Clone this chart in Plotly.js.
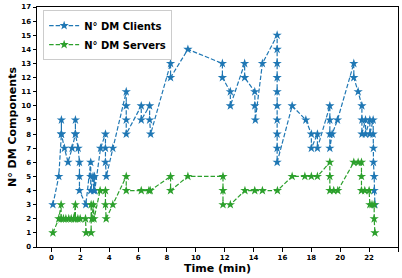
<!DOCTYPE html>
<html>
<head>
<meta charset="utf-8">
<script src="https://cdn.plot.ly/plotly-3.0.1.min.js"></script>
<style>html,body{margin:0;padding:0;background:#fff;}#chart{width:402px;height:278px;}</style>
</head>
<body>
<div id="chart"></div>
<script>
const clientsT = [0.1,0.51,0.69,0.69,0.69,0.9,1.15,1.43,1.66,1.66,1.66,1.85,1.94,1.94,1.94,2.38,2.72,2.72,2.72,2.88,2.93,2.98,3.0,3.4,3.74,3.74,3.74,3.8,4.25,5.18,5.18,5.18,5.18,6.22,6.22,6.8,6.8,6.87,8.25,8.25,9.45,11.84,11.84,12.39,12.39,13.38,13.38,14.08,14.08,14.12,14.61,15.63,15.63,15.63,15.63,15.63,15.63,15.63,15.63,15.63,15.63,16.67,17.62,18.0,18.0,18.42,18.42,19.28,19.28,19.28,19.28,19.44,19.81,20.94,20.94,21.24,21.5,21.5,21.5,21.75,21.75,22.05,22.05,22.28,22.28,22.3,22.3,22.35,22.35,22.4];
const clientsN = [3,5,8,9,8,7,6,7,8,9,8,7,6,5,4,3,6,5,4,5,4,5,4,7,8,7,6,5,7,11,10,9,8,10,9,10,9,8,13,12,14,13,12,11,10,13,12,11,10,9,13,15,14,13,12,11,10,9,8,7,6,10,9,8,7,8,7,10,9,8,7,8,9,13,12,11,10,9,8,9,8,9,8,9,8,7,6,5,4,3];
const serversT = [0.1,0.51,0.67,0.67,0.83,1.0,1.2,1.37,1.55,1.66,1.66,1.83,1.99,2.36,2.4,2.75,2.75,2.8,2.9,2.95,3.37,3.74,3.74,3.79,4.25,5.18,5.18,6.22,6.75,6.84,8.25,8.25,9.45,11.88,11.88,11.88,12.39,13.4,14.08,14.61,15.65,16.67,17.55,18.0,18.42,19.28,19.28,19.28,19.55,19.83,20.94,21.24,21.47,21.47,21.47,21.7,22.0,22.05,22.2,22.35,22.35,22.4];
const serversN = [1,2,3,2,2,2,2,2,2,3,2,2,2,2,1,1,3,2,3,2,4,4,3,2,3,5,4,4,4,4,5,4,5,5,4,3,3,4,4,4,4,5,5,5,5,6,5,4,4,4,6,6,6,5,4,4,4,3,3,3,2,1];
const xTicks = [0,2,4,6,8,10,12,14,16,18,20,22,24];
const yTicks = [0,1,2,3,4,5,6,7,8,9,10,11,12,13,14,15,16,17];
const seriesNames = ['N° DM Clients','N° DM Servers'];

const blue = '#1f77b4', green = '#2ca02c';
const mk = (x, y, name, color) => ({
  x: x, y: y, name: name, type: 'scatter', mode: 'lines+markers',
  line: {color: color, width: 1.2, dash: '4.5px,2px'},
  marker: {symbol: 'star', size: 7, color: color}
});
const tickFont = {family: 'DejaVu Sans', size: 7, color: '#000', weight: 'bold'};
const axisBase = {
  showline: true, mirror: true, linecolor: '#000', linewidth: 1,
  ticks: 'outside', ticklen: 3.5, tickwidth: 1, tickcolor: '#000',
  showgrid: false, zeroline: false, tickfont: tickFont, automargin: true
};
const layout = {
  width: 402, height: 278,
  margin: {l: 37, r: 4, t: 7, b: 31},
  paper_bgcolor: '#fff', plot_bgcolor: '#fff',
  showlegend: true,
  legend: {x: 0.017, y: 0.987, xanchor: 'left', yanchor: 'top',
    bgcolor: 'rgba(255,255,255,0.8)', bordercolor: '#ccc', borderwidth: 1,
    font: {family: 'DejaVu Sans', size: 10, color: '#000', weight: 'bold'},
    tracegroupgap: 0},
  xaxis: Object.assign({}, axisBase, {range: [-1, 24], tickvals: xTicks, ticktext: xTicks.map(String),
    title: {text: 'Time (min)', font: {family: 'DejaVu Sans', size: 11, color: '#000', weight: 'bold'}, standoff: 3}}),
  yaxis: Object.assign({}, axisBase, {range: [0, 17], tickvals: yTicks, ticktext: yTicks.map(String),
    title: {text: 'N° DM Components', font: {family: 'DejaVu Sans', size: 11, color: '#000', weight: 'bold'}, standoff: 2}})
};
Plotly.newPlot('chart', [mk(clientsT, clientsN, seriesNames[0], blue), mk(serversT, serversN, seriesNames[1], green)], layout, {staticPlot: true, displayModeBar: false});
</script>
</body>
</html>
